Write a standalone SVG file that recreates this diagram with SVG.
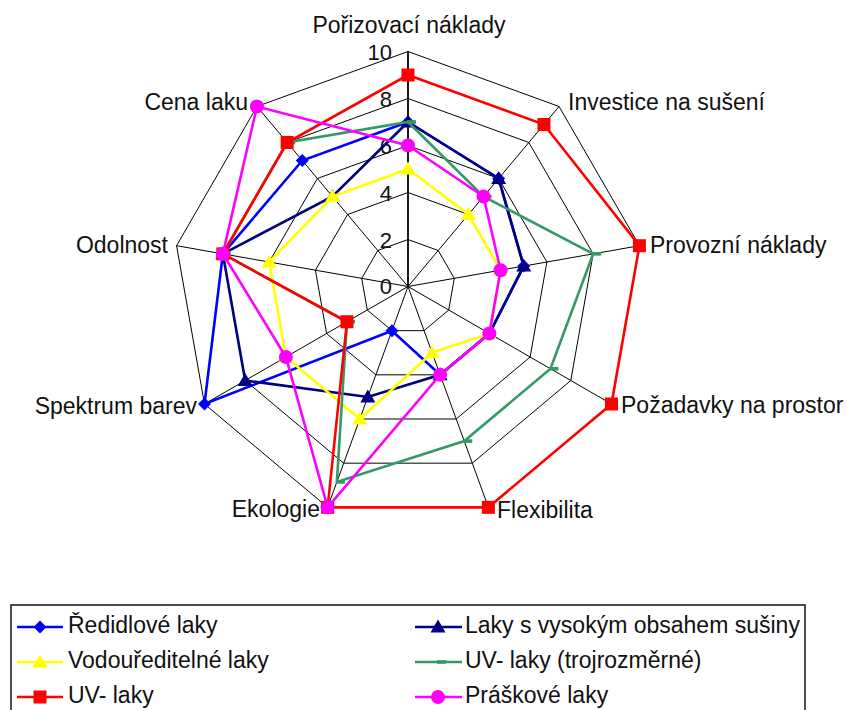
<svg xmlns="http://www.w3.org/2000/svg" xmlns:xlink="http://www.w3.org/1999/xlink" width="847" height="710" viewBox="0 0 847 710">
<style>
text{font-family:"Liberation Sans",Arial,sans-serif;font-size:23px;fill:#111}
.v{font-size:22px;text-anchor:end}
.grid{fill:none;stroke:#000;stroke-width:1}
.spoke{stroke:#000;stroke-width:1}
.s{fill:none;stroke-width:2.6;stroke-linejoin:miter}
.b{stroke:#0000FF}.n{stroke:#000080}.y{stroke:#FFFF00}.g{stroke:#339966}.r{stroke:#FF0000}.m{stroke:#FF00FF}
.fb{fill:#0000FF}.fn{fill:#000080}.fy{fill:#FFFF00}.fg{fill:#339966}.fr{fill:#FF0000}.fm{fill:#FF00FF}
</style>
<defs>
<path id="dia" d="M0,-6.5L6.5,0L0,6.5L-6.5,0Z"/>
<path id="tri" d="M0,-7.5L7.5,5.5L-7.5,5.5Z"/>
<rect id="sq" x="-6.5" y="-6.5" width="13" height="13"/>
<circle id="ci" r="7"/>
<rect id="da" x="-1" y="-1.8" width="9" height="3.6"/>
</defs>
<rect width="847" height="710" fill="#fff"/>
<g id="grid">
<polygon class="grid" points="408,239.5 438.21,250.5 454.29,278.34 448.7,310 424.07,330.67 391.93,330.67 367.3,310 361.71,278.34 377.79,250.5"/>
<polygon class="grid" points="408,192.5 468.42,214.5 500.57,270.18 489.4,333.5 440.15,374.83 375.85,374.83 326.6,333.5 315.43,270.18 347.58,214.5"/>
<polygon class="grid" points="408,145.5 498.64,178.49 546.86,262.02 530.11,357 456.22,419 359.78,419 285.89,357 269.14,262.02 317.36,178.49"/>
<polygon class="grid" points="408,98.5 528.85,142.49 593.14,253.86 570.81,380.5 472.3,463.16 343.7,463.16 245.19,380.5 222.86,253.86 287.15,142.49"/>
<polygon class="grid" points="408,51.5 559.06,106.49 639.43,245.7 611.51,404 488.37,507.33 327.63,507.33 204.49,404 176.57,245.7 256.94,106.49"/>
<line class="spoke" x1="408" y1="286.5" x2="559.06" y2="106.49"/>
<line class="spoke" x1="408" y1="286.5" x2="639.43" y2="245.7"/>
<line class="spoke" x1="408" y1="286.5" x2="611.51" y2="404"/>
<line class="spoke" x1="408" y1="286.5" x2="488.37" y2="507.33"/>
<line class="spoke" x1="408" y1="286.5" x2="327.63" y2="507.33"/>
<line class="spoke" x1="408" y1="286.5" x2="204.49" y2="404"/>
<line class="spoke" x1="408" y1="286.5" x2="176.57" y2="245.7"/>
<line class="spoke" x1="408" y1="286.5" x2="256.94" y2="106.49"/>
<line x1="408" y1="286.5" x2="408" y2="51.5" stroke="#000" stroke-width="1.8"/>
</g>
<g id="scale">
<text class="v" x="392" y="60">10</text>
<text class="v" x="392" y="107">8</text>
<text class="v" x="392" y="154">6</text>
<text class="v" x="392" y="201">4</text>
<text class="v" x="392" y="248">2</text>
<text class="v" x="392" y="294">0</text>
</g>
<g id="labels">
<text x="409" y="33" text-anchor="middle">Pořizovací náklady</text>
<text x="568" y="110">Investice na sušení</text>
<text x="650" y="253">Provozní náklady</text>
<text x="621" y="413">Požadavky na prostor</text>
<text x="497" y="518">Flexibilita</text>
<text x="320" y="517" text-anchor="end">Ekologie</text>
<text x="197" y="414" text-anchor="end">Spektrum barev</text>
<text x="168" y="253" text-anchor="end">Odolnost</text>
<text x="248" y="110" text-anchor="end">Cena laku</text>
</g>
<g id="connectors">
<g id="s-redidlove">
<polygon class="s b" points="408,122 498.64,178.49 523.72,266.1 489.4,333.5 440.15,374.83 391.93,330.67 204.49,404 222.86,253.86 302.26,160.49"/>
<g class="fb"><use href="#dia" x="408" y="122"/><use href="#dia" x="498.64" y="178.49"/><use href="#dia" x="523.72" y="266.1"/><use href="#dia" x="489.4" y="333.5"/><use href="#dia" x="440.15" y="374.83"/><use href="#dia" x="391.93" y="330.67"/><use href="#dia" x="204.49" y="404"/><use href="#dia" x="222.86" y="253.86"/><use href="#dia" x="302.26" y="160.49"/></g>
</g>
<g id="s-susina">
<polygon class="s n" points="408,122 498.64,178.49 523.72,266.1 489.4,333.5 440.15,374.83 367.82,396.92 245.19,380.5 222.86,253.86 332.47,196.5"/>
<g class="fn"><use href="#tri" x="408" y="122"/><use href="#tri" x="498.64" y="178.49"/><use href="#tri" x="523.72" y="266.1"/><use href="#tri" x="489.4" y="333.5"/><use href="#tri" x="440.15" y="374.83"/><use href="#tri" x="367.82" y="396.92"/><use href="#tri" x="245.19" y="380.5"/><use href="#tri" x="222.86" y="253.86"/><use href="#tri" x="332.47" y="196.5"/></g>
</g>
<g id="s-vodou">
<polygon class="s y" points="408,169 468.42,214.5 500.57,270.18 489.4,333.5 432.11,352.75 359.78,419 285.89,357 269.14,262.02 332.47,196.5"/>
<g class="fy"><use href="#tri" x="408" y="169"/><use href="#tri" x="468.42" y="214.5"/><use href="#tri" x="500.57" y="270.18"/><use href="#tri" x="489.4" y="333.5"/><use href="#tri" x="432.11" y="352.75"/><use href="#tri" x="359.78" y="419"/><use href="#tri" x="285.89" y="357"/><use href="#tri" x="269.14" y="262.02"/><use href="#tri" x="332.47" y="196.5"/></g>
</g>
<g id="s-uv3d">
<polygon class="s g" points="408,122 483.53,196.5 593.14,253.86 550.46,368.75 464.26,441.08 336.87,481.93 346.95,321.75 222.86,253.86 287.15,142.49"/>
<g class="fg"><use href="#da" x="408" y="122"/><use href="#da" x="483.53" y="196.5"/><use href="#da" x="593.14" y="253.86"/><use href="#da" x="550.46" y="368.75"/><use href="#da" x="464.26" y="441.08"/><use href="#da" x="336.87" y="481.93"/><use href="#da" x="346.95" y="321.75"/><use href="#da" x="222.86" y="253.86"/><use href="#da" x="287.15" y="142.49"/></g>
</g>
<g id="s-uv">
<polygon class="s r" points="408,75 543.95,124.49 639.43,245.7 611.51,404 488.37,507.33 327.63,507.33 346.95,321.75 222.86,253.86 287.15,142.49"/>
<g class="fr"><use href="#sq" x="408" y="75"/><use href="#sq" x="543.95" y="124.49"/><use href="#sq" x="639.43" y="245.7"/><use href="#sq" x="611.51" y="404"/><use href="#sq" x="488.37" y="507.33"/><use href="#sq" x="327.63" y="507.33"/><use href="#sq" x="346.95" y="321.75"/><use href="#sq" x="222.86" y="253.86"/><use href="#sq" x="287.15" y="142.49"/></g>
</g>
<g id="s-praskove">
<polygon class="s m" points="408,145.5 483.53,196.5 500.57,270.18 489.4,333.5 440.15,374.83 327.63,507.33 285.89,357 222.86,253.86 256.94,106.49"/>
<g class="fm"><use href="#ci" x="408" y="145.5"/><use href="#ci" x="483.53" y="196.5"/><use href="#ci" x="500.57" y="270.18"/><use href="#ci" x="489.4" y="333.5"/><use href="#ci" x="440.15" y="374.83"/><use href="#ci" x="327.63" y="507.33"/><use href="#ci" x="285.89" y="357"/><use href="#ci" x="222.86" y="253.86"/><use href="#ci" x="256.94" y="106.49"/></g>
</g>
</g>
<g id="legend">
<rect x="11" y="605" width="794" height="120" fill="none" stroke="#222" stroke-width="1.6"/>
<line class="s b" x1="17" y1="627" x2="63" y2="627"/><use href="#dia" class="fb" x="40" y="627"/>
<text x="68" y="633">Ředidlové laky</text>
<line class="s y" x1="17" y1="662" x2="63" y2="662"/><use href="#tri" class="fy" x="40" y="662"/>
<text x="68" y="668">Vodouředitelné laky</text>
<line class="s r" x1="17" y1="697" x2="63" y2="697"/><use href="#sq" class="fr" x="40" y="697"/>
<text x="68" y="703">UV- laky</text>
<line class="s n" x1="415" y1="627" x2="462" y2="627"/><use href="#tri" class="fn" x="438" y="627"/>
<text x="465" y="633">Laky s vysokým obsahem sušiny</text>
<line class="s g" x1="415" y1="662" x2="462" y2="662"/><use href="#da" class="fg" x="438" y="662"/>
<text x="465" y="668">UV- laky (trojrozměrné)</text>
<line class="s m" x1="415" y1="697" x2="462" y2="697"/><use href="#ci" class="fm" x="438" y="697"/>
<text x="465" y="703">Práškové laky</text>
</g>
</svg>
